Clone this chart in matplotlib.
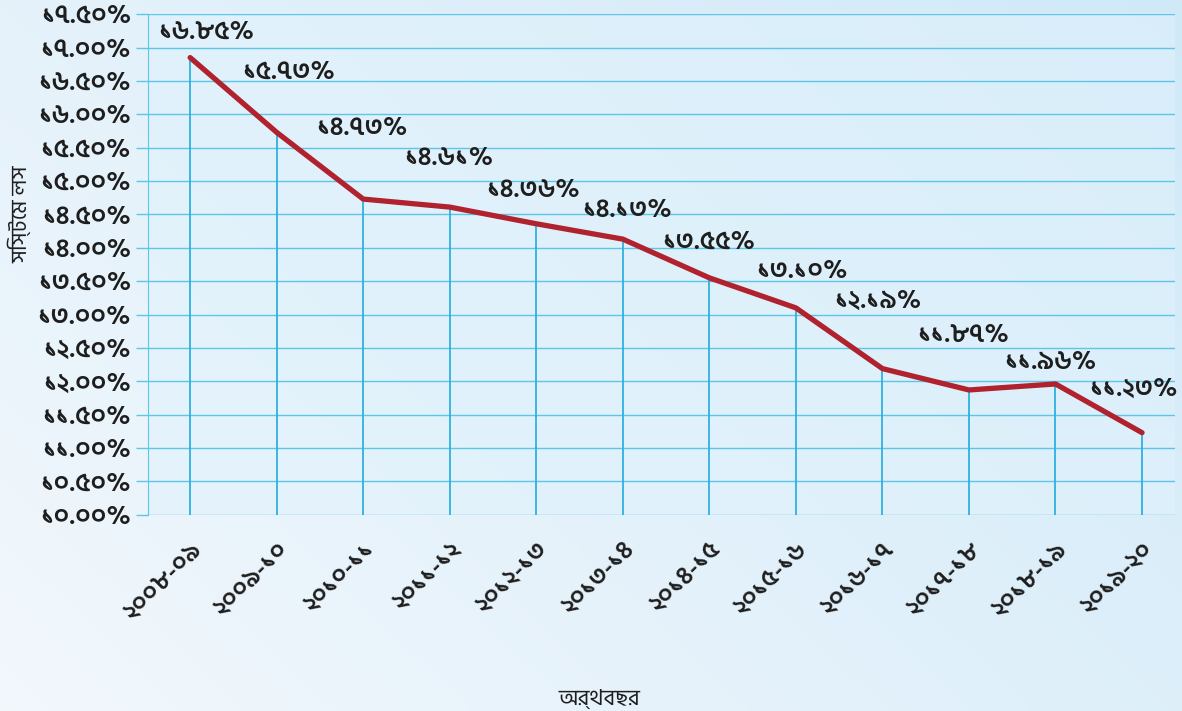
import os
import numpy as np
import matplotlib
matplotlib.use("Agg")
import matplotlib.pyplot as plt
from matplotlib import font_manager as fm

# bengali font (falls back to DejaVu Sans for missing glyphs)
FONT_DIR = "/usr/share/fonts/truetype/google-fonts/"
for f in ["HindSiliguri-Regular.ttf", "HindSiliguri-Medium.ttf", "HindSiliguri-SemiBold.ttf"]:
    if os.path.exists(FONT_DIR + f):
        fm.fontManager.addfont(FONT_DIR + f)
plt.rcParams['font.family'] = ['Hind Siliguri', 'Noto Sans Bengali', 'DejaVu Sans']

# data
years = ["২০০৮-০৯", "২০০৯-১০", "২০১০-১১", "২০১১-১২", "২০১২-১৩", "২০১৩-১৪",
         "২০১৪-১৫", "২০১৫-১৬", "২০১৬-১৭", "২০১৭-১৮", "২০১৮-১৯", "২০১৯-২০"]
loss = [16.85, 15.73, 14.73, 14.61, 14.36, 14.13, 13.55, 13.10, 12.19, 11.87, 11.96, 11.23]
loss_labels = ["১৬.৮৫%", "১৫.৭৩%", "১৪.৭৩%", "১৪.৬১%", "১৪.৩৬%", "১৪.১৩%",
               "১৩.৫৫%", "১৩.১০%", "১২.১৯%", "১১.৮৭%", "১১.৯৬%", "১১.২৩%"]
yticks = [10.0, 10.5, 11.0, 11.5, 12.0, 12.5, 13.0, 13.5, 14.0, 14.5, 15.0, 15.5, 16.0, 16.5, 17.0, 17.5]
ytick_labels = ["১০.০০%", "১০.৫০%", "১১.০০%", "১১.৫০%", "১২.০০%", "১২.৫০%", "১৩.০০%", "১৩.৫০%",
                "১৪.০০%", "১৪.৫০%", "১৫.০০%", "১৫.৫০%", "১৬.০০%", "১৬.৫০%", "১৭.০০%", "১৭.৫০%"]

# label offsets in pixels (hand placed like the original)
lab_dx = [16, 12, -1, -1, -3, 4, -1, 6, -5, -6, -5, -9]
lab_dy = [25, 60, 71, 49, 33, 29, 36, 36, 67, 54, 21, 43]

GRID = "#5cc6e6"
DROP = "#2fb0e0"
RED = "#b0222e"
TXT = "#1e1e1e"

fig = plt.figure(figsize=(11.82, 7.11), dpi=100)

# background gradient
bg = fig.add_axes([0, 0, 1, 1], zorder=-10)
gx = np.linspace(0, 1, 256)
gy = np.linspace(0, 1, 256)
GX, GY = np.meshgrid(gx, gy)
grad = np.clip(0.55 * GX + 0.35 * (1 - GY), 0, 1)
c0 = np.array([0.95, 0.97, 0.99])
c1 = np.array([0.80, 0.91, 0.97])
img = c0[None, None, :] * (1 - grad[..., None]) + c1[None, None, :] * grad[..., None]
bg.imshow(img, aspect='auto', extent=[0, 1, 0, 1], origin='upper')
bg.axis('off')

ax = fig.add_axes([0.125, 0.276, 0.869, 0.704])
ax.set_facecolor((0.88, 0.95, 0.99, 0.55))

x = np.arange(len(years))
ax.set_xlim(-0.49, 11.38)
ax.set_ylim(10.0, 17.5)

for yv in yticks:
    ax.axhline(yv, color=GRID, lw=1.0, zorder=1)
ax.vlines(x, 10.0, loss, color=DROP, lw=1.3, zorder=2)
ax.plot(x, loss, color=RED, lw=3.8, solid_capstyle='round', solid_joinstyle='round', zorder=3)

for i in range(len(x)):
    ax.annotate(loss_labels[i], (x[i], loss[i]), xytext=(lab_dx[i], lab_dy[i]),
                textcoords='offset pixels', ha='center', va='center',
                fontsize=19, fontweight='semibold', color=TXT, zorder=4)

ax.set_yticks(yticks)
ax.set_yticklabels(ytick_labels, fontsize=19, fontweight='semibold', color=TXT)
ax.set_xticks(x)
ax.set_xticklabels(years, fontsize=18, fontweight='semibold', color=TXT, rotation=45,
                   ha='right', va='top', rotation_mode='anchor')
ax.tick_params(axis='y', length=9, color=GRID, width=1.0, pad=3)
ax.tick_params(axis='x', length=0, pad=16)

for s in ['top', 'right', 'bottom']:
    ax.spines[s].set_visible(False)
ax.spines['left'].set_color(GRID)
ax.spines['left'].set_linewidth(0.8)

ax.set_ylabel("সিস্টেম লস", fontsize=16, color=TXT)
ax.yaxis.set_label_coords(-0.113, 0.60)
ax.set_xlabel("অর্থবছর", fontsize=16, color=TXT)
ax.xaxis.set_label_coords(0.44, -0.35)

fig.savefig("out.png", dpi=100)
